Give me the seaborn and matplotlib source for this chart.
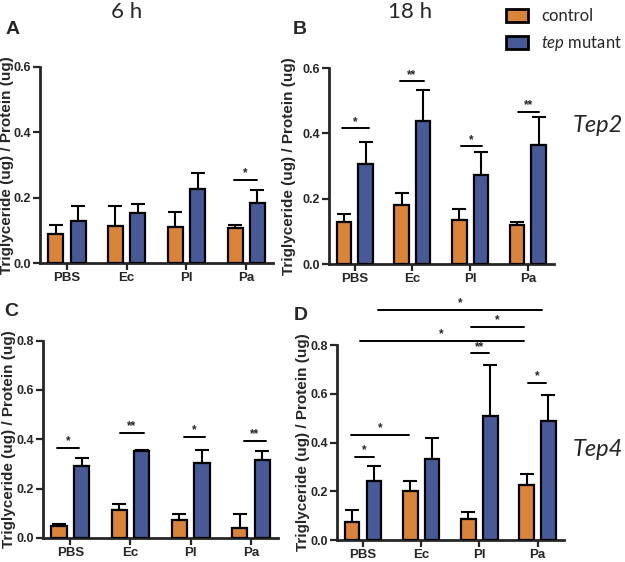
import numpy as np
import pandas as pd
import matplotlib
matplotlib.use("Agg")
import matplotlib.pyplot as plt
import seaborn as sns

infections = ["PBS", "Ec", "Pl", "Pa"]
groups = ["control", "tep mutant"]
colors = ["#F5821F", "#3A53A4"]

# A: Tep2, 6 h
a_control = [0.088, 0.113, 0.111, 0.106]
a_control_err = [0.027, 0.062, 0.046, 0.009]
a_mutant = [0.128, 0.152, 0.225, 0.185]
a_mutant_err = [0.047, 0.028, 0.051, 0.037]
a_sig = [(3, -0.2, 0.18, 0.254, "*")]

# B: Tep2, 18 h
b_control = [0.129, 0.180, 0.135, 0.121]
b_control_err = [0.023, 0.037, 0.034, 0.009]
b_mutant = [0.305, 0.438, 0.272, 0.363]
b_mutant_err = [0.070, 0.094, 0.070, 0.086]
b_sig = [(0, -0.22, 0.24, 0.415, "*"), (1, -0.22, 0.2, 0.559, "**"),
         (2, -0.15, 0.2, 0.360, "*"), (3, -0.17, 0.2, 0.466, "**")]

# C: Tep4, 6 h
c_control = [0.050, 0.112, 0.072, 0.039]
c_control_err = [0.007, 0.027, 0.023, 0.058]
c_mutant = [0.293, 0.353, 0.303, 0.314]
c_mutant_err = [0.029, 0.005, 0.052, 0.039]
c_sig = [(0, -0.22, 0.14, 0.365, "*"), (1, -0.17, 0.22, 0.424, "**"),
         (2, -0.12, 0.23, 0.408, "*"), (3, -0.12, 0.25, 0.392, "**")]

# D: Tep4, 18 h
d_control = [0.075, 0.202, 0.085, 0.226]
d_control_err = [0.048, 0.041, 0.032, 0.046]
d_mutant = [0.243, 0.333, 0.508, 0.490]
d_mutant_err = [0.062, 0.087, 0.211, 0.107]
d_sig = [(0, 0.25, 3.08, 0.943, "*"), (0, 1.85, 2.76, 0.874, "*"),
         (0, -0.06, 2.76, 0.816, "*"), (0, 1.85, 2.17, 0.766, "**"),
         (0, 2.83, 3.15, 0.645, "*"), (0, -0.20, 0.79, 0.430, "*"),
         (0, -0.14, 0.19, 0.340, "*")]

sns.set_style("ticks")
plt.rcParams["font.family"] = ["Liberation Sans", "DejaVu Sans"]
plt.rcParams["mathtext.fontset"] = "custom"
plt.rcParams["mathtext.it"] = "Lato:italic"

fig = plt.figure(figsize=(6.25, 5.62), dpi=100)

panels = [
    ("A", [0.064, 0.532, 0.373, 0.349], 0.6, a_control, a_control_err, a_mutant, a_mutant_err, a_sig, -0.113),
    ("B", [0.526, 0.530, 0.360, 0.349], 0.6, b_control, b_control_err, b_mutant, b_mutant_err, b_sig, -0.145),
    ("C", [0.069, 0.043, 0.376, 0.351], 0.8, c_control, c_control_err, c_mutant, c_mutant_err, c_sig, -0.117),
    ("D", [0.539, 0.039, 0.363, 0.347], 0.8, d_control, d_control_err, d_mutant, d_mutant_err, d_sig, -0.12),
]
letter_pos = {"A": (13, 29), "B": (300, 29), "C": (11, 312), "D": (301, 315)}

axes = {}
for name, rect, ymax, ctrl, ctrl_err, mut, mut_err, sig, lab_x in panels:
    ax = fig.add_axes(rect)
    df = pd.DataFrame({
        "infection": infections * 2,
        "group": [groups[0]] * 4 + [groups[1]] * 4,
        "value": ctrl + mut,
    })
    sns.barplot(data=df, x="infection", y="value", hue="group", order=infections,
                hue_order=groups, palette=colors, width=0.75, gap=0.33,
                edgecolor="black", linewidth=1.6, errorbar=None, ax=ax,
                legend=(name == "B"), zorder=3)
    for cont, err in zip(ax.containers, [ctrl_err, mut_err]):
        xs = [b.get_x() + b.get_width() / 2 for b in cont]
        ys = [b.get_height() for b in cont]
        ax.errorbar(xs, ys, yerr=[np.zeros(len(err)), err], fmt="none",
                    ecolor="black", elinewidth=1.5, capsize=5, capthick=1.5, zorder=2)
    for cat, x0, x1, y, label in sig:
        ax.plot([cat + x0, cat + x1], [y, y], color="black", lw=1.4, clip_on=False)
        ax.annotate(label, ((cat + x0 + cat + x1) / 2, y), xytext=(0, 0.5),
                    textcoords="offset points", ha="center", va="bottom",
                    fontsize=8.5, fontweight="bold", annotation_clip=False)
    ax.set_ylim(0, ymax)
    ax.set_xlim(-0.45, 3.45)
    ax.set_yticks(np.arange(0, ymax + 0.01, 0.2))
    ax.set_yticklabels([f"{t:.1f}" for t in np.arange(0, ymax + 0.01, 0.2)])
    ax.set_xlabel("")
    ax.set_ylabel("Triglyceride (ug) / Protein (ug)", fontsize=11, fontweight="bold")
    ax.yaxis.set_label_coords(lab_x, 0.5)
    sns.despine(ax=ax)
    for s in ["left", "bottom"]:
        ax.spines[s].set_linewidth(2)
    ax.tick_params(axis="both", width=1.6, length=5, pad=1.5)
    ax.tick_params(axis="x", labelsize=9.5)
    ax.tick_params(axis="y", labelsize=9)
    for t in ax.get_xticklabels() + ax.get_yticklabels():
        t.set_fontweight("bold")
    lx, ly = letter_pos[name]
    fig.text(lx / 625, 1 - ly / 562, name, fontsize=14, fontweight="bold",
             ha="center", va="center")
    axes[name] = ax

handles, _ = axes["B"].get_legend_handles_labels()
axes["B"].get_legend().remove()
for h in handles:
    h.set_linewidth(2)
leg = fig.legend(handles, ["control", r"$\mathit{tep}$ mutant"], loc="upper left",
                 bbox_to_anchor=(498 / 625, 1.0), frameon=False,
                 prop={"family": "Lato", "size": 12}, handlelength=1.3, handleheight=0.75,
                 labelspacing=0.6, borderaxespad=0.1, handletextpad=0.8)

fig.text(127 / 625, 1 - 12 / 562, "6 h", fontsize=16, ha="center", va="center", family="Lato")
fig.text(410 / 625, 1 - 12 / 562, "18 h", fontsize=16, ha="center", va="center", family="Lato")
fig.text(598 / 625, 1 - 125 / 562, "Tep2", fontsize=17, style="italic", ha="center", va="center", family="Lato")
fig.text(598 / 625, 1 - 450 / 562, "Tep4", fontsize=17, style="italic", ha="center", va="center", family="Lato")

fig.savefig("out.png", dpi=100)
